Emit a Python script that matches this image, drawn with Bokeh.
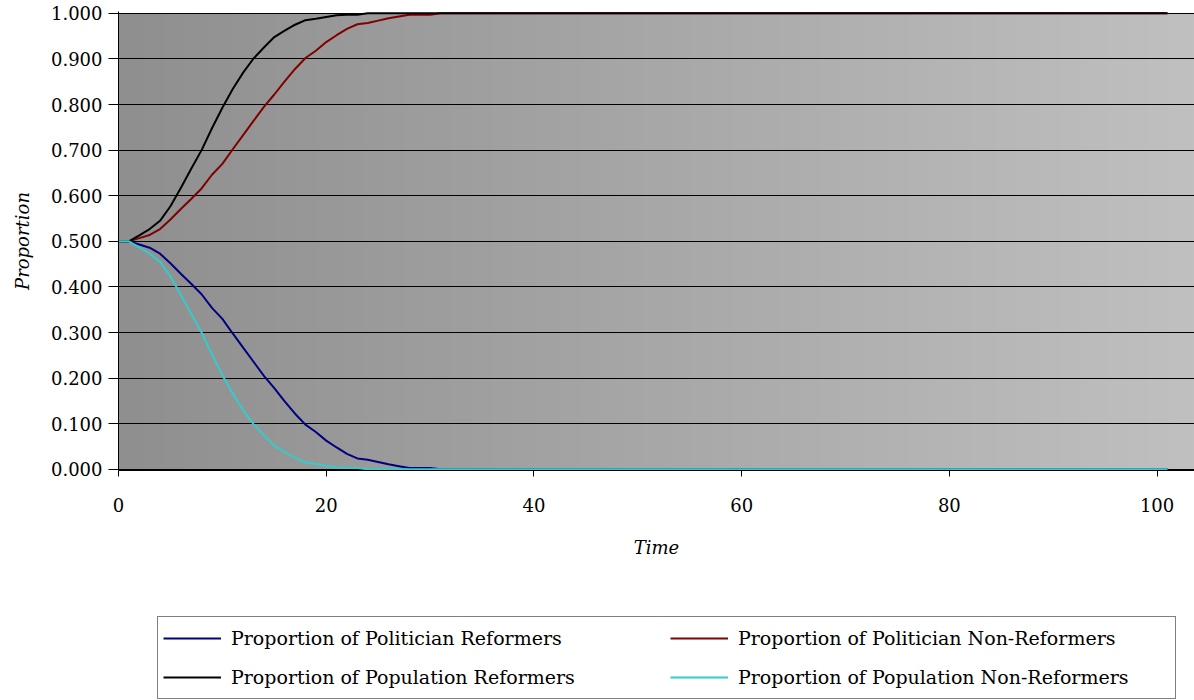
import numpy as np
from bokeh.plotting import figure
from bokeh.layouts import column
from bokeh.models import Legend, LegendItem, FixedTicker, Range1d, NumeralTickFormatter
from bokeh.embed import file_html
from bokeh.resources import INLINE

# ---------------- data ----------------
time = list(range(0, 102))

# t = 0..31, flat afterwards
pol_reformers_head = [0.500, 0.500, 0.493, 0.486, 0.473, 0.452, 0.429, 0.407, 0.384, 0.354,
                      0.330, 0.298, 0.267, 0.236, 0.205, 0.178, 0.149, 0.122, 0.098, 0.082,
                      0.063, 0.048, 0.034, 0.024, 0.021, 0.016, 0.011, 0.007, 0.003, 0.003,
                      0.003, 0.000]
pol_nonreformers_head = [0.500, 0.500, 0.507, 0.514, 0.527, 0.548, 0.571, 0.593, 0.616, 0.646,
                         0.670, 0.702, 0.733, 0.764, 0.795, 0.822, 0.851, 0.878, 0.902, 0.918,
                         0.937, 0.952, 0.966, 0.976, 0.979, 0.984, 0.989, 0.993, 0.997, 0.997,
                         0.997, 1.000]
pop_reformers_head = [0.500, 0.500, 0.513, 0.527, 0.545, 0.577, 0.617, 0.659, 0.700, 0.748,
                      0.793, 0.834, 0.870, 0.901, 0.925, 0.948, 0.962, 0.975, 0.985, 0.988,
                      0.992, 0.996, 0.997, 0.997, 1.000]
pop_nonreformers_head = [0.500, 0.500, 0.487, 0.473, 0.455, 0.423, 0.383, 0.341, 0.300, 0.252,
                         0.207, 0.166, 0.130, 0.099, 0.075, 0.052, 0.038, 0.025, 0.015, 0.012,
                         0.008, 0.004, 0.003, 0.003, 0.000]

# values stay at 0.000 / 1.000 for the rest of the run
pol_reformers = pol_reformers_head + [0.0] * (len(time) - len(pol_reformers_head))
pol_nonreformers = pol_nonreformers_head + [1.0] * (len(time) - len(pol_nonreformers_head))
pop_reformers = pop_reformers_head + [1.0] * (len(time) - len(pop_reformers_head))
pop_nonreformers = pop_nonreformers_head + [0.0] * (len(time) - len(pop_nonreformers_head))

series_names = ["Proportion of Politician Reformers",
                "Proportion of Politician Non-Reformers",
                "Proportion of Population Reformers",
                "Proportion of Population Non-Reformers"]
series_colors = ["#000080", "#800000", "#000000", "#33cccc"]

x_ticks = [0, 20, 40, 60, 80, 100]
y_ticks = [0.0, 0.1, 0.2, 0.3, 0.4, 0.5, 0.6, 0.7, 0.8, 0.9, 1.0]

X_MAX = 103.6
Y_LO, Y_HI = -0.0025, 1.004   # small pad so lines at 0 / 1 are not half-clipped
FONT = "DejaVu Serif"

# ---------------- main figure ----------------
p = figure(width=1194, height=610, output_backend="svg", toolbar_location=None,
           x_range=Range1d(0, X_MAX), y_range=Range1d(Y_LO, Y_HI),
           min_border_left=118, min_border_top=11, min_border_right=0,
           min_border_bottom=140)
p.outline_line_color = None
p.background_fill_color = "white"
p.border_fill_color = "white"

# gradient plot-area background (only up to 1.0, white above)
lv = np.linspace(0x8f, 0xc0, 256).astype(np.uint8)
rgba = np.zeros((1, 256, 4), dtype=np.uint8)
rgba[0, :, 0] = lv
rgba[0, :, 1] = lv
rgba[0, :, 2] = lv
rgba[0, :, 3] = 255
img = rgba.view(dtype=np.uint32).reshape((1, 256))
p.image_rgba(image=[img], x=0, y=Y_LO, dw=X_MAX, dh=1.0 - Y_LO, level="image")

# grid
p.xgrid.grid_line_color = None
p.ygrid.grid_line_color = "black"
p.ygrid.grid_line_width = 1
p.ygrid.ticker = FixedTicker(ticks=y_ticks)

# lines
series = [pol_reformers, pol_nonreformers, pop_reformers, pop_nonreformers]
for vals, col in zip(series, series_colors):
    p.line(time, vals, line_color=col, line_width=2)

# axes
p.xaxis.ticker = FixedTicker(ticks=x_ticks)
p.yaxis.ticker = FixedTicker(ticks=y_ticks)
p.yaxis.formatter = NumeralTickFormatter(format="0.000")
for ax in (p.xaxis[0], p.yaxis[0]):
    ax.axis_line_color = "black"
    ax.axis_line_width = 1
    ax.major_tick_line_color = "black"
    ax.major_tick_in = 0
    ax.minor_tick_line_color = None
    ax.major_label_text_font = FONT
    ax.major_label_text_font_size = "18px"
    ax.major_label_text_color = "black"
    ax.axis_label_text_font = FONT
    ax.axis_label_text_font_size = "18px"
    ax.axis_label_text_font_style = "italic"
    ax.axis_label_text_color = "black"

p.xaxis.major_tick_out = 6
p.xaxis.major_label_standoff = 21
p.xaxis.axis_label = "Time"
p.xaxis.axis_label_standoff = 22

p.yaxis.major_tick_out = 10
p.yaxis.major_label_standoff = 6
p.yaxis.axis_label = "Proportion"
p.yaxis.axis_label_standoff = 15

# ---------------- legend strip ----------------
# same series plotted against a range that lies outside the data, so only the legend shows
q = figure(width=1194, height=90, output_backend="svg", toolbar_location=None,
           x_range=Range1d(0, 1), y_range=Range1d(5, 6),
           min_border_left=0, min_border_right=0, min_border_top=0, min_border_bottom=0)
q.axis.visible = False
q.grid.visible = False
q.outline_line_color = None
q.background_fill_color = "white"
q.border_fill_color = "white"

legend_renderers = [q.line(time, vals, line_color=col, line_width=2)
                    for vals, col in zip(series, series_colors)]
items = [LegendItem(label=n, renderers=[r]) for n, r in zip(series_names, legend_renderers)]
legend = Legend(items=items, orientation="horizontal", ncols=2,
                label_text_font=FONT, label_text_font_size="19px",
                label_text_color="black",
                glyph_width=58, glyph_height=32, label_height=32,
                label_width=432, label_standoff=10, spacing=7, padding=5,
                border_line_color="black", border_line_width=1,
                background_fill_color="white", background_fill_alpha=1.0,
                location=(39, 1), margin=0)
q.add_layout(legend)

layout = column(p, q, spacing=0)
open("out.html", "w").write(file_html(layout, INLINE))
